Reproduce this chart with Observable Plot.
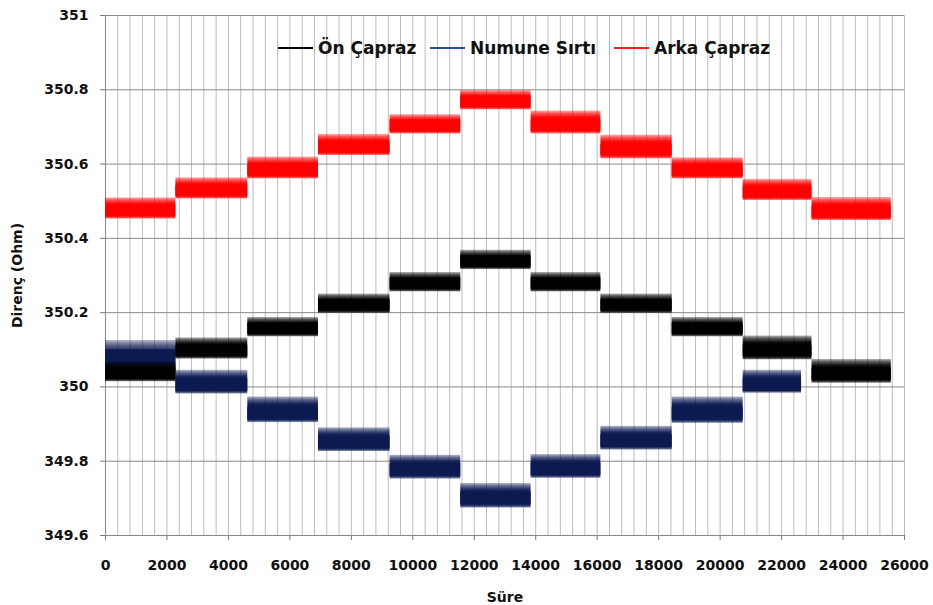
<!DOCTYPE html>
<html><head><meta charset="utf-8">
<script src="https://cdn.jsdelivr.net/npm/d3@7"></script>
<script src="https://cdn.jsdelivr.net/npm/@observablehq/plot@0.6"></script>
<style>
body{margin:0;background:#fff;}
#wrap{position:relative;width:933px;height:605px;font-family:"DejaVu Sans",sans-serif;}
.item{position:absolute;top:38px;display:flex;align-items:center;white-space:nowrap;font-weight:bold;font-size:17px;color:#111;line-height:20px}
.swatch{width:35px;height:2px;margin-right:5px}
</style></head><body><div id="wrap"></div>
<script>
// Step boundaries (Süre)
const stepStart = [0, 2290, 4630, 6930, 9260, 11560, 13850, 16120, 18440, 20750, 22990];
const stepEnd   = [2290, 4630, 6930, 9260, 11560, 13850, 16120, 18440, 20750, 22990, 25570];
const numuneLastEnd = 22650;

// Series levels (Direnç, Ohm) per step
const onCapraz    = [350.036, 350.097, 350.157, 350.220, 350.278, 350.338, 350.278, 350.220, 350.157, 350.097, 350.034];
const numuneSirti = [350.070, 350.005, 349.928, 349.850, 349.776, 349.700, 349.778, 349.854, 349.928, 350.005];
const arkaCapraz  = [350.474, 350.528, 350.584, 350.645, 350.703, 350.768, 350.703, 350.638, 350.582, 350.524, 350.470];

// Noise spread (dense core half-width, spike reach up / down)
const onCore = [0.015, 0.015, 0.015, 0.015, 0.015, 0.015, 0.015, 0.015, 0.015, 0.015, 0.016];
const onUp   = [0.030, 0.035, 0.030, 0.030, 0.030, 0.030, 0.030, 0.030, 0.030, 0.040, 0.040];
const onDown = [0.022, 0.022, 0.022, 0.022, 0.022, 0.022, 0.022, 0.022, 0.022, 0.024, 0.024];
const numuneCore = [0.030, 0.017, 0.017, 0.017, 0.017, 0.017, 0.017, 0.017, 0.017, 0.017];
const numuneUp   = [0.055, 0.040, 0.045, 0.040, 0.040, 0.040, 0.040, 0.040, 0.045, 0.040];
const numuneDown = [0.050, 0.024, 0.024, 0.024, 0.024, 0.026, 0.024, 0.024, 0.026, 0.022];
const arkaCore = [0.015, 0.015, 0.015, 0.015, 0.015, 0.015, 0.015, 0.015, 0.015, 0.015, 0.015];
const arkaUp   = [0.035, 0.035, 0.035, 0.035, 0.030, 0.030, 0.040, 0.040, 0.035, 0.035, 0.040];
const arkaDown = [0.022, 0.022, 0.024, 0.022, 0.022, 0.022, 0.022, 0.024, 0.022, 0.022, 0.022];

const seriesNames = ["Numune Sırtı", "Ön Çapraz", "Arka Çapraz"];
const seriesColors = ["#0c1a52", "#000000", "#ff0000"];
const gradientIds = ["gNumune", "gOn", "gArka"];
const legendOrder = ["Ön Çapraz", "Numune Sırtı", "Arka Çapraz"];
const legendColors = ["#000000", "#2b4a9a", "#ff2020"];

const xTicks = [0, 2000, 4000, 6000, 8000, 10000, 12000, 14000, 16000, 18000, 20000, 22000, 24000, 26000];
const yTicks = [349.6, 349.8, 350, 350.2, 350.4, 350.6, 350.8, 351];
const xGrid = d3.range(0, 26001, 400);

const sources = [
  {name: "Numune Sırtı", levels: numuneSirti, core: numuneCore, up: numuneUp, down: numuneDown},
  {name: "Ön Çapraz", levels: onCapraz, core: onCore, up: onUp, down: onDown},
  {name: "Arka Çapraz", levels: arkaCapraz, core: arkaCore, up: arkaUp, down: arkaDown}
];
const rows = sources.flatMap(s => s.levels.map((v, i) => ({
  series: s.name,
  x1: stepStart[i],
  x2: (s.name === "Numune Sırtı" && i === s.levels.length - 1) ? numuneLastEnd : stepEnd[i],
  lo: v - s.core[i], hi: v + s.core[i],
  olo: v - s.down[i], ohi: v + s.up[i],
  v
})));

const chart = Plot.plot({
  width: 933, height: 605,
  marginLeft: 105, marginRight: 29, marginTop: 15, marginBottom: 70,
  style: {fontFamily: "'DejaVu Sans', sans-serif", fontSize: "14px", fontWeight: "bold", color: "#111", background: "#fff"},
  x: {domain: [0, 26000]},
  y: {domain: [349.6, 351]},
  color: {domain: seriesNames, range: seriesColors},
  marks: [
    Plot.ruleX(xGrid, {stroke: "#bcbcbc", strokeWidth: 1}),
    Plot.ruleY(yTicks, {stroke: "#8a8a8a", strokeWidth: 1}),
    Plot.axisY({ticks: yTicks, tickSize: 5, tickPadding: 12, tickFormat: d => String(Math.round(d * 10) / 10),
      label: "Direnç (Ohm)", labelArrow: "none", labelAnchor: "center", labelOffset: 93, stroke: "#777", fontSize: 14}),
    Plot.axisX({ticks: xTicks, tickSize: 5, tickPadding: 20, tickFormat: d => String(d),
      label: "Süre", labelArrow: "none", labelAnchor: "center", labelOffset: 66, stroke: "#777", fontSize: 14}),
    Plot.ruleX([0], {stroke: "#888"}),
    Plot.ruleY([349.6], {stroke: "#888"}),
    ...seriesNames.flatMap((name, k) => [
      Plot.rect(rows.filter(d => d.series === name), {x1: "x1", x2: "x2", y1: "olo", y2: "ohi", fill: `url(#${gradientIds[k]})`}),
      Plot.rect(rows.filter(d => d.series === name), {x1: "x1", x2: "x2", y1: "lo", y2: "hi", fill: "series"})
    ])
  ]
});

// Vertical gradients give the noisy bands their soft, spiky fringes
const svg = d3.select(chart.tagName.toLowerCase() === "svg" ? chart : chart.querySelector("svg"));
const defs = svg.insert("defs", ":first-child");
seriesColors.forEach((c, k) => {
  const g = defs.append("linearGradient").attr("id", gradientIds[k])
    .attr("x1", 0).attr("y1", 0).attr("x2", 0).attr("y2", 1);
  [[0, 0.3], [0.12, 0.65], [0.28, 0.95], [0.4, 1], [0.85, 1], [0.93, 0.85], [1, 0.45]].forEach(([o, a]) =>
    g.append("stop").attr("offset", o).attr("stop-color", c).attr("stop-opacity", a));
});

const wrap = document.getElementById("wrap");
wrap.appendChild(chart);

// Legend overlay (inside plot area, no background as in the original)
const legendLeft = [278, 430, 614];
legendOrder.forEach((name, i) => {
  const it = document.createElement("div");
  it.className = "item";
  it.style.left = legendLeft[i] + "px";
  const sw = document.createElement("span");
  sw.className = "swatch";
  sw.style.background = legendColors[i];
  const t = document.createElement("span");
  t.textContent = name;
  it.appendChild(sw); it.appendChild(t);
  wrap.appendChild(it);
});
</script></body></html>
